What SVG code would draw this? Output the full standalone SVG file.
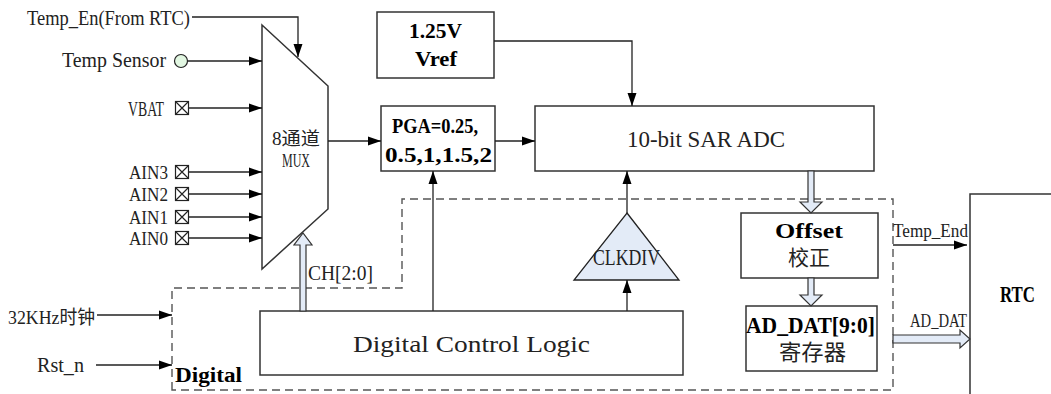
<svg xmlns="http://www.w3.org/2000/svg" width="1051" height="394" viewBox="0 0 1051 394">
<style>
.t{font-family:"Liberation Serif","Noto Sans CJK SC",serif;fill:#222;}
.b{font-weight:bold;fill:#000;}
.box{fill:#fff;stroke:#333;stroke-width:1.5;}
.ln{fill:none;stroke:#222;stroke-width:1.3;}
.fat{fill:#e3ebf7;stroke:#333;stroke-width:1.2;}
.dash{fill:none;stroke:#555;stroke-width:1.4;stroke-dasharray:8 5;}
</style>
<defs>
<marker id="ah" markerUnits="userSpaceOnUse" markerWidth="14" markerHeight="10" refX="13" refY="5" orient="auto">
<path d="M0,0.5 L13,5 L0,9.5 Z" fill="#000"/>
</marker>
<g id="xbox-sym">
<rect x="-6.5" y="-6.5" width="13" height="13" fill="#fff" stroke="#222" stroke-width="1.2"/>
<path d="M-6.5,-6.5 L6.5,6.5 M6.5,-6.5 L-6.5,6.5" stroke="#222" stroke-width="1.2"/>
</g>
</defs>

<g id="digital-region">
<path class="dash" d="M172,390 L172,288 L402,288 L402,199 L893,199 L893,390 Z"/>
<text class="t b" x="175" y="382" font-size="20" textLength="67" lengthAdjust="spacingAndGlyphs">Digital</text>
</g>

<g id="inputs">
<text class="t" x="27" y="25" font-size="21" textLength="163" lengthAdjust="spacingAndGlyphs">Temp_En(From RTC)</text>
<text class="t" x="62" y="67" font-size="21" textLength="104" lengthAdjust="spacingAndGlyphs">Temp Sensor</text>
<circle cx="181" cy="61" r="6.5" fill="#e2f7e2" stroke="#222" stroke-width="1.2"/>
<text class="t" x="128" y="116" font-size="21" textLength="36" lengthAdjust="spacingAndGlyphs">VBAT</text>
<use href="#xbox-sym" x="182" y="108"/>
<text class="t" x="129" y="179" font-size="18.5" textLength="39" lengthAdjust="spacingAndGlyphs">AIN3</text>
<use href="#xbox-sym" x="182" y="172"/>
<text class="t" x="129" y="201" font-size="18.5" textLength="39" lengthAdjust="spacingAndGlyphs">AIN2</text>
<use href="#xbox-sym" x="182" y="194"/>
<text class="t" x="129" y="224" font-size="18.5" textLength="39" lengthAdjust="spacingAndGlyphs">AIN1</text>
<use href="#xbox-sym" x="182" y="217"/>
<text class="t" x="129" y="245" font-size="18.5" textLength="39" lengthAdjust="spacingAndGlyphs">AIN0</text>
<use href="#xbox-sym" x="182" y="238"/>
<text class="t" x="8" y="324" font-size="19" textLength="87" lengthAdjust="spacingAndGlyphs">32KHz时钟</text>
<text class="t" x="37" y="372" font-size="21" textLength="47" lengthAdjust="spacingAndGlyphs">Rst_n</text>
</g>

<g id="mux">
<polygon points="262,25 328,86 328,209 262,269" fill="#fff" stroke="#333" stroke-width="1.5"/>
<text class="t" x="272" y="145" font-size="18" textLength="48" lengthAdjust="spacingAndGlyphs" fill="#333">8通道</text>
<text class="t" x="282" y="167" font-size="19" textLength="28" lengthAdjust="spacingAndGlyphs" fill="#333">MUX</text>
</g>

<g id="vref">
<rect class="box" x="377" y="12" width="117" height="66"/>
<text class="t b" x="409" y="38" font-size="22" textLength="53" lengthAdjust="spacingAndGlyphs">1.25V</text>
<text class="t b" x="415" y="66" font-size="22" textLength="42" lengthAdjust="spacingAndGlyphs">Vref</text>
</g>

<g id="pga">
<rect class="box" x="381" y="106" width="114" height="65"/>
<text class="t b" x="392" y="133" font-size="21" textLength="86" lengthAdjust="spacingAndGlyphs">PGA=0.25,</text>
<text class="t b" x="385" y="162" font-size="21" textLength="107" lengthAdjust="spacingAndGlyphs">0.5,1,1.5,2</text>
</g>

<g id="adc">
<rect class="box" x="535" y="106" width="339" height="65"/>
<text class="t" x="627" y="147" font-size="23" textLength="158" lengthAdjust="spacingAndGlyphs" fill="#000">10-bit SAR ADC</text>
</g>

<g id="offset">
<rect class="box" x="741" y="213" width="137" height="65"/>
<text class="t b" x="775" y="238" font-size="21" textLength="68" lengthAdjust="spacingAndGlyphs">Offset</text>
<text class="t" x="788" y="265" font-size="21" textLength="42" lengthAdjust="spacingAndGlyphs" fill="#000">校正</text>
</g>

<g id="addat">
<rect class="box" x="746" y="306" width="131" height="65"/>
<text class="t b" x="746" y="333" font-size="23" textLength="129" lengthAdjust="spacingAndGlyphs">AD_DAT[9:0]</text>
<text class="t" x="779" y="360" font-size="22" textLength="67" lengthAdjust="spacingAndGlyphs" fill="#000">寄存器</text>
</g>

<g id="clkdiv">
<polygon points="627,213 679,280 574,280" fill="#e3ebf7" stroke="#222" stroke-width="1.3"/>
<text class="t" x="593" y="265" font-size="24" textLength="67" lengthAdjust="spacingAndGlyphs" fill="#333">CLKDIV</text>
</g>

<g id="dcl">
<rect class="box" x="260" y="311" width="423" height="64"/>
<text class="t" x="353" y="352" font-size="23" textLength="237" lengthAdjust="spacingAndGlyphs" fill="#000">Digital Control Logic</text>
</g>

<g id="rtc">
<rect class="box" x="970" y="194" width="90" height="220"/>
<text class="t b" x="1000" y="302" font-size="24" textLength="35" lengthAdjust="spacingAndGlyphs">RTC</text>
</g>

<g id="connectors">
<path class="ln" d="M192,17 L298,17 L298,57" marker-end="url(#ah)"/>
<path class="ln" d="M188,61 L262,61" marker-end="url(#ah)"/>
<path class="ln" d="M189,108 L262,108" marker-end="url(#ah)"/>
<path class="ln" d="M189,172 L262,172" marker-end="url(#ah)"/>
<path class="ln" d="M189,194 L262,194" marker-end="url(#ah)"/>
<path class="ln" d="M189,217 L262,217" marker-end="url(#ah)"/>
<path class="ln" d="M189,238 L262,238" marker-end="url(#ah)"/>
<path class="ln" d="M328,141 L381,141" marker-end="url(#ah)"/>
<path class="ln" d="M495,141 L535,141" marker-end="url(#ah)"/>
<path class="ln" d="M494,41 L632,41 L632,106" marker-end="url(#ah)"/>
<path class="ln" d="M433,311 L433,171" marker-end="url(#ah)"/>
<path class="ln" d="M627,213 L627,171" marker-end="url(#ah)"/>
<path class="ln" d="M627,311 L627,280" marker-end="url(#ah)"/>
<path class="ln" d="M97,315 L172,315" marker-end="url(#ah)"/>
<path class="ln" d="M96,365 L172,365" marker-end="url(#ah)"/>
<path class="ln" d="M893,245 L967,245" marker-end="url(#ah)"/>
<path class="fat" d="M300,311 L300,245 L294,245 L303,233 L312,245 L306,245 L306,311 Z"/>
<path class="fat" d="M808,171 L808,202 L800,202 L811,213 L822,202 L814,202 L814,171 Z"/>
<path class="fat" d="M808,278 L808,295 L800,295 L811,306 L822,295 L814,295 L814,278 Z"/>
<path class="fat" d="M893,335 L960,335 L960,330 L970,339 L960,348 L960,343 L893,343 Z"/>
<text class="t" x="308" y="280" font-size="20" textLength="65" lengthAdjust="spacingAndGlyphs" fill="#333">CH[2:0]</text>
<text class="t" x="893" y="237" font-size="19" textLength="75" lengthAdjust="spacingAndGlyphs" fill="#444">Temp_End</text>
<text class="t" x="910" y="327" font-size="19" textLength="57" lengthAdjust="spacingAndGlyphs" fill="#444">AD_DAT</text>
</g>
</svg>
